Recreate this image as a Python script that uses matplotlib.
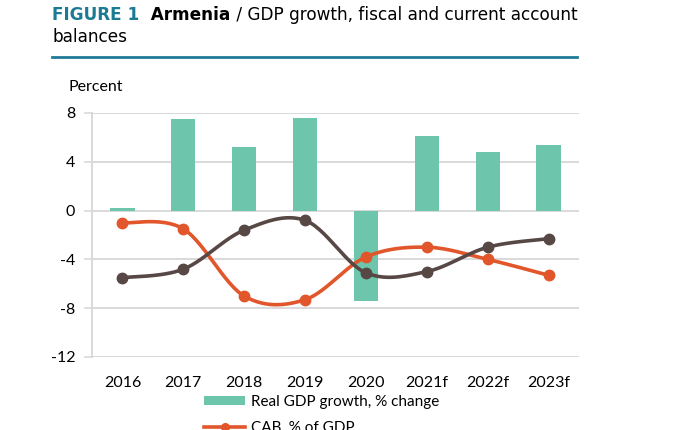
import numpy as np
import matplotlib
matplotlib.use("Agg")
import matplotlib.pyplot as plt
from matplotlib.lines import Line2D
from matplotlib.patches import Patch

# ---- data ----
years = ["2016", "2017", "2018", "2019", "2020", "2021f", "2022f", "2023f"]
gdp_growth = [0.2, 7.5, 5.2, 7.6, -7.4, 6.1, 4.8, 5.4]
cab = [-1.0, -1.5, -7.0, -7.3, -3.8, -3.0, -4.0, -5.3]
fiscal = [-5.5, -4.8, -1.6, -0.8, -5.1, -5.0, -3.0, -2.3]
yticks = [8, 4, 0, -4, -8, -12]
labels = ["Real GDP growth, % change", "CAB, % of GDP", "Fiscal balance, % of GDP"]

TEAL_BAR = "#6DC5AB"
ORANGE = "#E2562B"
BROWN = "#574846"
TEAL_TITLE = "#1B7B93"
GRID = "#D9D9D9"
TICKFONT = "Lato"
TITLEFONT = "DejaVu Sans"
TS = 12.2


def smooth(xs, ys, n=30):
    """Excel-like smoothed line (Catmull-Rom Bezier) through data points."""
    p = np.column_stack([xs, ys]).astype(float)
    pts = np.vstack([p[0], p, p[-1]])
    out = []
    t = np.linspace(0, 1, n)[:, None]
    for i in range(1, len(pts) - 2):
        p0, p1, p2, p3 = pts[i - 1], pts[i], pts[i + 1], pts[i + 2]
        c1 = p1 + (p2 - p0) / 6
        c2 = p2 - (p3 - p1) / 6
        seg = ((1 - t) ** 3) * p1 + 3 * ((1 - t) ** 2) * t * c1 + 3 * (1 - t) * t ** 2 * c2 + t ** 3 * p2
        out.append(seg if i == 1 else seg[1:])
    out = np.vstack(out)
    return out[:, 0], out[:, 1]


fig = plt.figure(figsize=(7.0, 4.3), dpi=100)
ax = fig.add_axes([92 / 700, 1 - 357 / 430, (579 - 92) / 700, (357 - 113) / 430])

x = np.arange(len(years))
ax.bar(x, gdp_growth, width=0.4, color=TEAL_BAR, zorder=2)

for series, col in [(cab, ORANGE), (fiscal, BROWN)]:
    sx, sy = smooth(x, series)
    ax.plot(sx, sy, color=col, lw=2.6, zorder=3, solid_capstyle="round")
    ax.plot(x, series, linestyle="none", marker="o", ms=7.5, color=col, zorder=4)

ax.set_xlim(-0.5, len(years) - 0.5)
ax.set_ylim(-12, 8)
ax.set_yticks(yticks)
ax.set_yticklabels([str(v) for v in yticks], fontfamily=TICKFONT, fontsize=11.5)
ax.set_xticks(x)
ax.set_xticklabels(years, fontfamily=TICKFONT, fontsize=11.5)
ax.tick_params(axis="x", length=0, pad=14)
ax.tick_params(axis="y", length=6, width=1.2, color=GRID, pad=6)
ax.grid(axis="y", color=GRID, lw=1.4, zorder=0)
for s in ["top", "right", "bottom"]:
    ax.spines[s].set_visible(False)
ax.spines["left"].set_color(GRID)
ax.spines["left"].set_linewidth(1.4)
ax.set_axisbelow(True)

fig.text(68 / 700, 1 - 87 / 430, "Percent", fontfamily=TICKFONT, fontsize=11.5, va="center", ha="left")

# title
t1 = fig.text(52 / 700, 1 - 20 / 430, "FIGURE 1", color=TEAL_TITLE, fontweight="bold",
              fontsize=TS, fontfamily=TITLEFONT, va="baseline")
t2 = ax.annotate("  Armenia", xy=(1, 0), xycoords=t1, fontsize=TS, fontweight="bold",
                 fontfamily=TITLEFONT, va="bottom", annotation_clip=False)
t3 = ax.annotate(" / GDP growth, fiscal and current account", xy=(1, 0), xycoords=t2, fontsize=TS,
                 fontfamily=TITLEFONT, va="bottom", annotation_clip=False)
fig.text(52 / 700, 1 - 42 / 430, "balances", fontsize=TS, fontfamily=TITLEFONT, va="baseline")
fig.add_artist(Line2D([52 / 700, 577 / 700], [1 - 57 / 430, 1 - 57 / 430], color="#1F7A99", lw=2))

handles = [
    Patch(facecolor=TEAL_BAR, edgecolor="none"),
    Line2D([], [], color=ORANGE, lw=2.6, marker="o", ms=5.5),
    Line2D([], [], color=BROWN, lw=2.6, marker="o", ms=5.5),
]
fig.legend(handles, labels, loc="upper left", bbox_to_anchor=(204 / 700, 1 - 395 / 430),
           frameon=False, prop={"family": TICKFONT, "size": 11}, handlelength=2.7,
           handleheight=0.55, handletextpad=0.35, labelspacing=0.8, borderaxespad=0,
           borderpad=0)

fig.savefig("out.png", dpi=100)
